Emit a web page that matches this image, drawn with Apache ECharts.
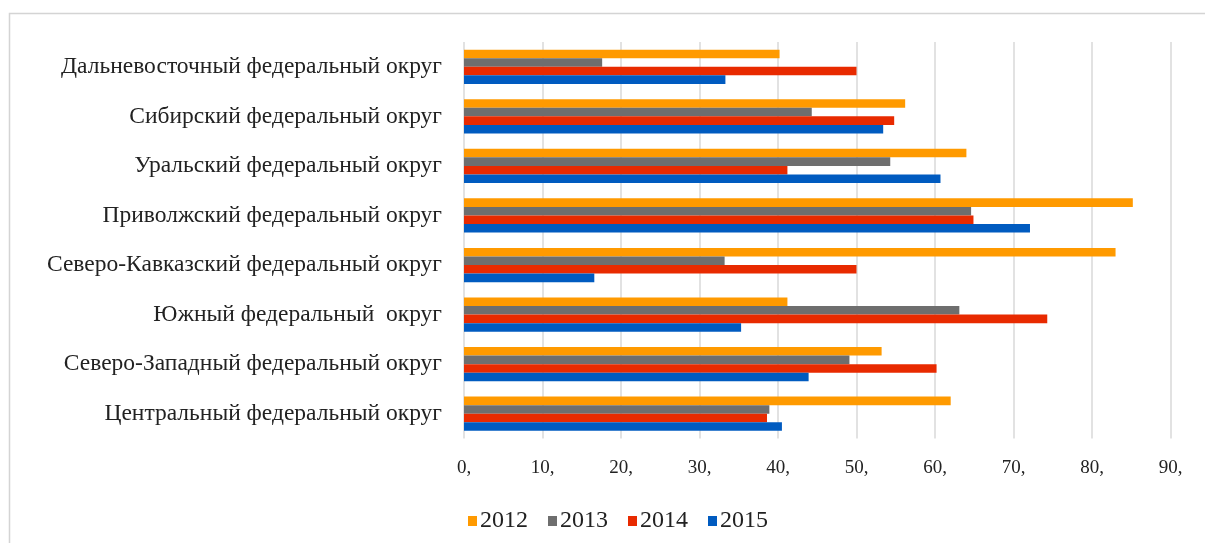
<!DOCTYPE html>
<html>
<head>
<meta charset="utf-8">
<script src="https://cdn.jsdelivr.net/npm/echarts@6/dist/echarts.min.js"></script>
<style>html,body{margin:0;padding:0;background:#fff;}#c{width:1205px;height:543px;}</style>
</head>
<body>
<div id="c"></div>
<script>
const categories = [
  'Центральный федеральный округ',
  'Северо-Западный федеральный округ',
  'Южный федеральный  округ',
  'Северо-Кавказский федеральный округ',
  'Приволжский федеральный округ',
  'Уральский федеральный округ',
  'Сибирский федеральный округ',
  'Дальневосточный федеральный округ'
];
const years = ['2012', '2013', '2014', '2015'];
const v2012 = [62.0, 53.2, 41.2, 83.0, 85.2, 64.0, 56.2, 40.2];
const v2013 = [38.9, 49.1, 63.1, 33.2, 64.6, 54.3, 44.3, 17.6];
const v2014 = [38.6, 60.2, 74.3, 50.0, 64.9, 41.2, 54.8, 50.0];
const v2015 = [40.5, 43.9, 35.3, 16.6, 72.1, 60.7, 53.4, 33.3];
const xTicks = [0, 10, 20, 30, 40, 50, 60, 70, 80, 90];

const colors = ['#FF9A00', '#6E6E6E', '#E82A00', '#005BC0'];
const values = [v2012, v2013, v2014, v2015];
const font = 'Liberation Serif';

const chart = echarts.init(document.getElementById('c'), null, {renderer: 'canvas'});
chart.setOption({
  animation: false,
  backgroundColor: '#fff',
  graphic: [{
    type: 'rect',
    shape: {x: 9.5, y: 13.5, width: 1200, height: 540},
    style: {fill: 'none', stroke: '#d4d4d4', lineWidth: 1.5},
    silent: true
  }],
  grid: {left: 464, right: 34.5, top: 42, height: 396.5, containLabel: false},
  legend: {
    data: years,
    left: 463,
    top: 504,
    itemWidth: 9,
    itemHeight: 10,
    itemGap: 20,
    icon: 'rect',
    textStyle: {fontFamily: font, fontSize: 24, color: '#222', padding: [0, 0, 0, -2]}
  },
  xAxis: {
    type: 'value',
    min: xTicks[0],
    max: xTicks[xTicks.length - 1],
    interval: 10,
    axisLine: {show: false},
    axisTick: {show: false},
    splitLine: {show: true, lineStyle: {color: '#d9d9d9', width: 1.5}},
    axisLabel: {
      formatter: v => v + ',',
      fontFamily: font,
      fontSize: 19,
      color: '#222',
      margin: 20
    }
  },
  yAxis: {
    type: 'category',
    data: categories,
    axisLine: {show: false},
    axisTick: {show: false},
    axisLabel: {fontFamily: font, fontSize: 23.5, color: '#222', margin: 22}
  },
  series: years.map((y, i) => ({
    name: y,
    type: 'bar',
    data: values[i],
    itemStyle: {color: colors[i]},
    barGap: '0%',
    barCategoryGap: '31%'
  }))
});
</script>
</body>
</html>
